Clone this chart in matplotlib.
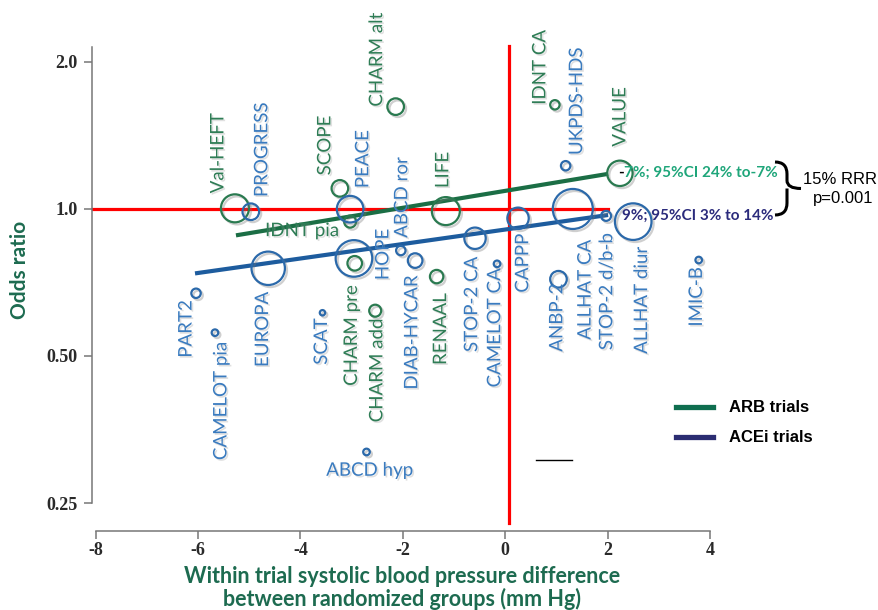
import matplotlib
matplotlib.use("Agg")
import matplotlib.pyplot as plt
import matplotlib.patheffects as pe
from matplotlib.path import Path
from matplotlib.patches import PathPatch
from matplotlib.lines import Line2D

# ARB trials: SBP difference (mm Hg), odds ratio, bubble radius (trial weight)
arb_names = ['Val-HEFT', 'SCOPE', 'IDNT pia', 'CHARM alt', 'LIFE', 'CHARM pre',
             'CHARM add', 'RENAAL', 'VALUE', 'IDNT CA']
arb_sbp = [-5.28, -3.23, -3.03, -2.14, -1.16, -2.94, -2.54, -1.34, 2.24, 0.97]
arb_or = [1.003, 1.102, 0.942, 1.62, 0.99, 0.774, 0.619, 0.727, 1.183, 1.634]
arb_size = [14, 8.3, 6, 8.3, 14, 7.3, 6, 6.7, 12.7, 4.7]

# ACEi / other trials
ace_names = ['PROGRESS', 'PEACE', 'ABCD ror', 'HOPE', 'EUROPA', 'DIAB-HYCAR', 'PART2',
             'CAMELOT pia', 'SCAT', 'ABCD hyp', 'STOP-2 CA', 'CAMELOT CA', 'CAPPP',
             'ANBP-2', 'ALLHAT CA', 'STOP-2 d/b-b', 'ALLHAT diur', 'UKPDS-HDS', 'IMIC-B']
ace_sbp = [-4.97, -3.03, -2.04, -2.955, -4.63, -1.76, -6.04, -5.67, -3.57, -2.71,
           -0.59, -0.16, 0.25, 1.04, 1.32, 1.97, 2.50, 1.18, 3.78]
ace_or = [0.987, 0.999, 0.822, 0.792, 0.756, 0.784, 0.672, 0.558, 0.613, 0.318,
          0.871, 0.772, 0.957, 0.718, 1.0, 0.968, 0.942, 1.226, 0.786]
ace_size = [8.3, 13.3, 4.7, 18.3, 16.7, 7.3, 4.7, 3.3, 2.7, 3.3,
            10.7, 3.3, 10.7, 8.3, 20, 5, 18.3, 4.7, 3.3]

# meta-regression lines
arb_fit_x = [-5.26, 2.01]
arb_fit_or = [0.883, 1.18]
ace_fit_x = [-6.06, 2.01]
ace_fit_or = [0.738, 0.972]

arb_text = '7%; 95%CI 24% to-7%'
ace_text = '9%; 95%CI 3% to 14%'

# label placement: offset in pixels from bubble centre, and direction
label_pos = {
    'Val-HEFT': (-17, 15, 'up'), 'PROGRESS': (11, 14.7, 'up'), 'SCOPE': (-15, 13, 'up'),
    'PEACE': (12.7, 21, 'up'), 'IDNT pia': (-48, -9, 'h'), 'CHARM alt': (-19, 0, 'up'),
    'ABCD ror': (1, 12.7, 'up'), 'LIFE': (-3, 23, 'up'), 'HOPE': (29, -21.7, 'up'),
    'CHARM pre': (-3.3, -21.7, 'down'), 'EUROPA': (-5.6, -23.4, 'down'),
    'DIAB-HYCAR': (-3.3, -14.3, 'down'), 'PART2': (-10, -6.7, 'down'),
    'CAMELOT pia': (6, -9, 'down'), 'SCAT': (-1, -5.5, 'down'),
    'CHARM add': (1.7, -7.6, 'down'), 'ABCD hyp': (3.3, -18.3, 'h'),
    'RENAAL': (4, -16.3, 'down'), 'STOP-2 CA': (-3.3, -18.4, 'down'),
    'CAMELOT CA': (-2.3, -4.3, 'down'), 'CAPPP': (4.7, -15, 'down'),
    'ANBP-2': (-1.6, -4, 'down'), 'ALLHAT CA': (12.3, -30.7, 'down'),
    'STOP-2 d/b-b': (0.7, -17.3, 'down'), 'ALLHAT diur': (8.4, -25, 'down'),
    'VALUE': (0, 26.6, 'up'), 'UKPDS-HDS': (11, 10.7, 'up'), 'IDNT CA': (-15, 0, 'up'),
    'IMIC-B': (-2.3, -6.7, 'down'),
}

GREEN = '#2a7a50'
BLUE = '#2b69aa'
GREEN_LBL = '#2f7d56'
BLUE_LBL = '#3a7bbf'
AXIS_GREEN = '#1d6b50'

W, H = 879, 610
fig = plt.figure(figsize=(W / 100, H / 100), dpi=100)
ax = fig.add_axes([95.7 / W, 107 / H, (710 - 95.7) / W, 496.7 / H])
ax.set_yscale('log')
ax.set_xlim(-8, 4)
ax.set_ylim(0.25, 2.6)

# reference lines
ax.plot([-8.06, 2.0], [1, 1], color='red', lw=2.3, clip_on=False, zorder=1)
ax.plot([0.08, 0.08], [0.2275, 2.16], color='red', lw=2.3, clip_on=False, zorder=1)

# regression lines
ax.plot(arb_fit_x, arb_fit_or, color='#1b6e45', lw=3, solid_capstyle='butt', zorder=3)
ax.plot(ace_fit_x, ace_fit_or, color='#1d5c9e', lw=3, solid_capstyle='butt', zorder=3)

shadow = [pe.SimpleLineShadow(offset=(1.5, -1.5), shadow_color='#777777', alpha=0.35), pe.Normal()]
txt_shadow = [pe.withSimplePatchShadow(offset=(1.2, -1.2), shadow_rgbFace='#999999', alpha=0.3)]


def draw_group(names, xs, ys, sizes, color, lcolor):
    s = [(2 * r * 0.72) ** 2 for r in sizes]
    sc = ax.scatter(xs, ys, s=s, facecolors='none', edgecolors=color, linewidths=1.6,
                    zorder=4, clip_on=False)
    sc.set_path_effects(shadow)
    for n, x, y in zip(names, xs, ys):
        dx, dy, mode = label_pos[n]
        kw = dict(xy=(x, y), xytext=(dx, dy), textcoords='offset pixels', color=lcolor,
                  fontsize=13.5, family='Lato', zorder=5, annotation_clip=False)
        if mode == 'h':
            t = ax.annotate(n, ha='center', va='center', **kw)
        else:
            t = ax.annotate(n, rotation=90, rotation_mode='anchor',
                            ha='left' if mode == 'up' else 'right', va='center', **kw)
        t.set_path_effects(txt_shadow)


draw_group(arb_names, arb_sbp, arb_or, arb_size, GREEN, GREEN_LBL)
draw_group(ace_names, ace_sbp, ace_or, ace_size, BLUE, BLUE_LBL)

# axes styling
for side in ['top', 'right']:
    ax.spines[side].set_visible(False)
ax.spines['left'].set_position(('outward', 3))
ax.spines['left'].set_bounds(0.25, 2.15)
ax.spines['bottom'].set_position(('outward', 20))
ax.spines['bottom'].set_bounds(-8, 4)
for side in ['left', 'bottom']:
    ax.spines[side].set_color('#777777')
    ax.spines[side].set_linewidth(1.1)
ax.set_yticks([0.25, 0.5, 1.0, 2.0])
ax.set_yticklabels(['0.25', '0.50', '1.0', '2.0'])
ax.minorticks_off()
ax.set_xticks([-8, -6, -4, -2, 0, 2, 4])
ax.set_xticklabels(['-8', '-6', '-4', '-2', '0', '2', '4'])
ax.tick_params(axis='both', length=6, width=1.1, color='#777777', labelcolor='#2a2a2a', pad=4)
ax.tick_params(axis='x', pad=2)
for lbl in ax.get_xticklabels() + ax.get_yticklabels():
    lbl.set_fontfamily(['Liberation Serif'])
    lbl.set_fontweight('bold')
    lbl.set_fontsize(13)

fig.text(20 / W, 1 - 270 / H, 'Odds ratio', rotation=90, ha='center', va='center',
         color=AXIS_GREEN, fontsize=15, fontweight='bold', family='Lato')
fig.text(402 / W, 1 - 588 / H,
         'Within trial systolic blood pressure difference\nbetween randomized groups (mm Hg)',
         ha='center', va='center', color=AXIS_GREEN, fontsize=15.5, fontweight='bold',
         linespacing=1.0, family='Lato')

# effect annotations
fig.text(618 / W, 1 - 173 / H, '-', ha='left', va='center', color='black',
         fontsize=11, fontweight='bold', family='Lato')
fig.text(624 / W, 1 - 173 / H, arb_text, ha='left', va='center', color='#1fa67a',
         fontsize=11, fontweight='bold', family='Lato')
fig.text(622 / W, 1 - 216 / H, ace_text, ha='left', va='center', color='#2b2b7c',
         fontsize=11, fontweight='bold', family='Lato')

# curly brace
bx, by0, by1 = 775, 162, 215
bm = (by0 + by1) / 2
pts = [(bx, by0), (bx + 12, by0), (bx + 12, by0 + 12),
       (bx + 12, bm - 8), (bx + 12, bm), (bx + 26, bm),
       (bx + 12, bm), (bx + 12, bm + 8),
       (bx + 12, by1 - 12), (bx + 12, by1), (bx, by1)]
codes = [Path.MOVETO, Path.CURVE3, Path.CURVE3,
         Path.LINETO, Path.CURVE3, Path.CURVE3,
         Path.MOVETO, Path.CURVE3, Path.CURVE3,
         Path.CURVE3, Path.CURVE3]
pts = [(p[0] / W, 1 - p[1] / H) for p in pts]
fig.add_artist(PathPatch(Path(pts, codes), transform=fig.transFigure, fill=False,
                         edgecolor='black', lw=2.2))
fig.text(840 / W, 1 - 179 / H, '15% RRR', ha='center', va='center', fontsize=12,
         family='Liberation Sans')
fig.text(843 / W, 1 - 199 / H, 'p=0.001', ha='center', va='center', fontsize=12,
         family='Liberation Sans')

# legend
for yy, col, lab in [(407, '#0f6e4f', 'ARB trials'), (437, '#2b2d72', 'ACEi trials')]:
    fig.add_artist(Line2D([676 / W, 713 / W], [1 - yy / H, 1 - yy / H], color=col, lw=3.8,
                          transform=fig.transFigure))
    fig.text(729 / W, 1 - yy / H, lab, ha='left', va='center', fontsize=12,
             fontweight='bold', family='Liberation Sans')

# small stray dash
ax.plot([0.6, 1.3], [0.306, 0.306], color='black', lw=1)

fig.savefig('out.png', dpi=100)
